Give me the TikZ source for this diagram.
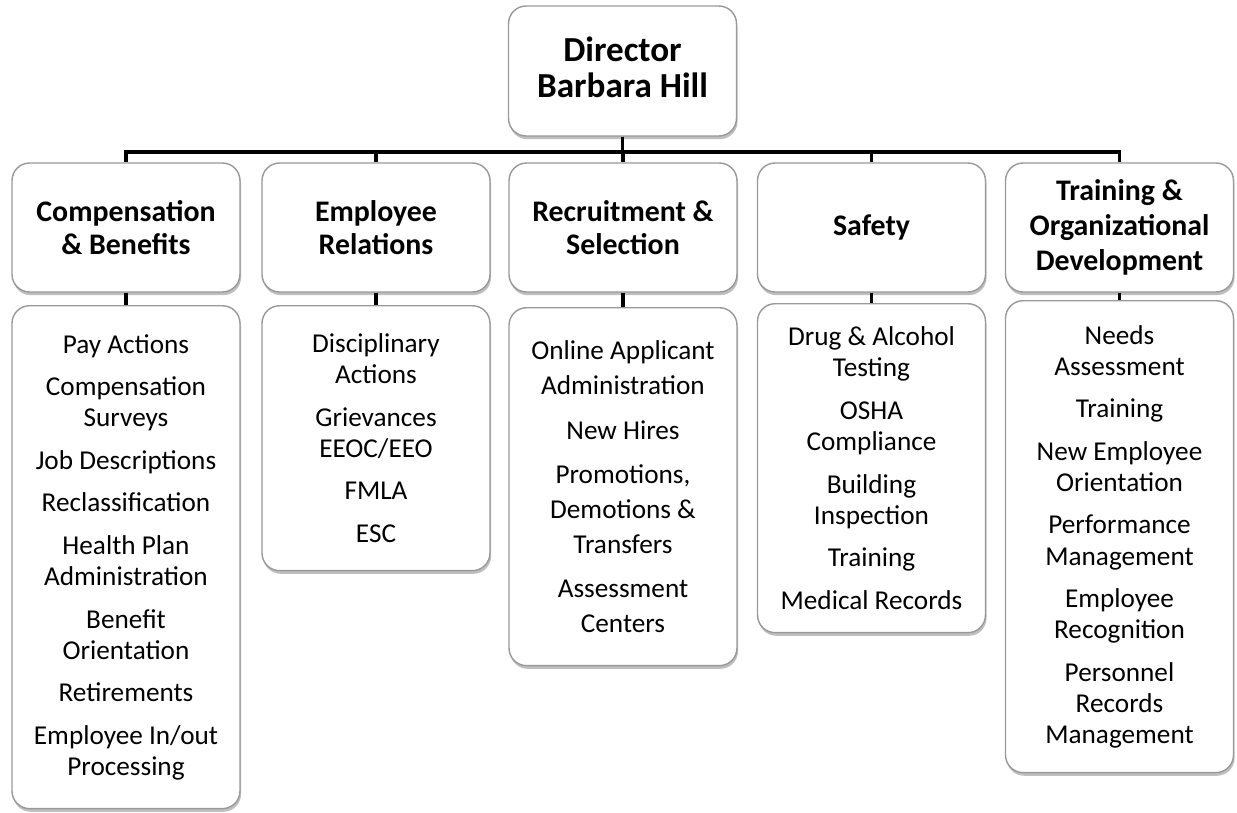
\documentclass[tikz,border=0pt]{standalone}
\usepackage{fontspec}
\setmainfont{Carlito}
\usetikzlibrary{shadows}

\begin{document}
\begin{tikzpicture}[x=0.02cm, y=-0.02cm,
		unit/.style={draw=black!40, line width=0.8pt, rounded corners=10pt, fill=white,
			align=flush center, text width=4.5cm, minimum width=4.56cm, inner sep=0pt,
			drop shadow={shadow xshift=0.6pt, shadow yshift=-1.8pt, fill=black!50, opacity=0.5}},
		head/.style={unit, minimum height=2.58cm, font=\fontsize{17}{18.4}\selectfont\bfseries},
		duties/.style={unit, anchor=north, font=\fontsize{15.5}{17.7}\selectfont},
		link/.style={line width=1.9pt}]
		\def\gap{6.5pt}
		
		\useasboundingbox (0,0) rectangle (1237,812);
		
		\node [head, minimum height=2.6cm, text depth=25pt, font=\fontsize{20}{20.6}\selectfont\bfseries] (dir) at (622.5,71) {Director\\Barbara Hill};
		
		\node [head] (cb) at (126,227.5) {Compensation\\\& Benefits};
		\node [head] (er) at (376,227.5) {Employee\\Relations};
		\node [head] (rs) at (623,227.5) {Recruitment \&\\Selection};
		\node [head] (sf) at (871.5,227.5) {Safety};
		\node [head, font=\fontsize{17}{20}\selectfont\bfseries] (tod) at (1119.5,227.5) {Training \&\\Organizational\\Development};
		
		\node [duties, minimum height=10.06cm] (cb-list) at (126,305) {Pay Actions\\[\gap]
			Compensation\\Surveys\\[\gap]
			Job Descriptions\\[\gap]
			Reclassification\\[\gap]
			Health Plan\\Administration\\[\gap]
			Benefit\\Orientation\\[\gap]
			Retirements\\[\gap]
			Employee In/out\\Processing};
		\node [duties, minimum height=5.3cm] (er-list) at (376,305) {Disciplinary\\Actions\\[\gap]
			Grievances\\EEOC/EEO\\[\gap]
			FMLA\\[\gap]
			ESC};
		\node [duties, minimum height=7.16cm, font=\fontsize{15.5}{19.8}\selectfont] (rs-list) at (623,307) {Online Applicant\\Administration\\[5.5pt]
			New Hires\\[5.5pt]
			Promotions,\\Demotions \&\\Transfers\\[5.5pt]
			Assessment\\Centers};
		\node [duties, minimum height=6.58cm] (sf-list) at (871.5,303) {Drug \& Alcohol\\Testing\\[\gap]
			OSHA\\Compliance\\[\gap]
			Building\\Inspection\\[\gap]
			Training\\[\gap]
			Medical Records};
		\node [duties, minimum height=9.44cm] (tod-list) at (1119.5,300) {Needs\\Assessment\\[\gap]
			Training\\[\gap]
			New Employee\\Orientation\\[\gap]
			Performance\\Management\\[\gap]
			Employee\\Recognition\\[\gap]
			Personnel\\Records\\Management};
		
		\coordinate (bus) at (622.5,152);
		\draw [link] (dir) -- (bus);
		\foreach \n in {cb, er, rs, sf, tod} {
			\draw [link] (bus) -| (\n.north);
			\draw [link] (\n.south) -- (\n-list.north);
		}
	\end{tikzpicture}
\end{document}
